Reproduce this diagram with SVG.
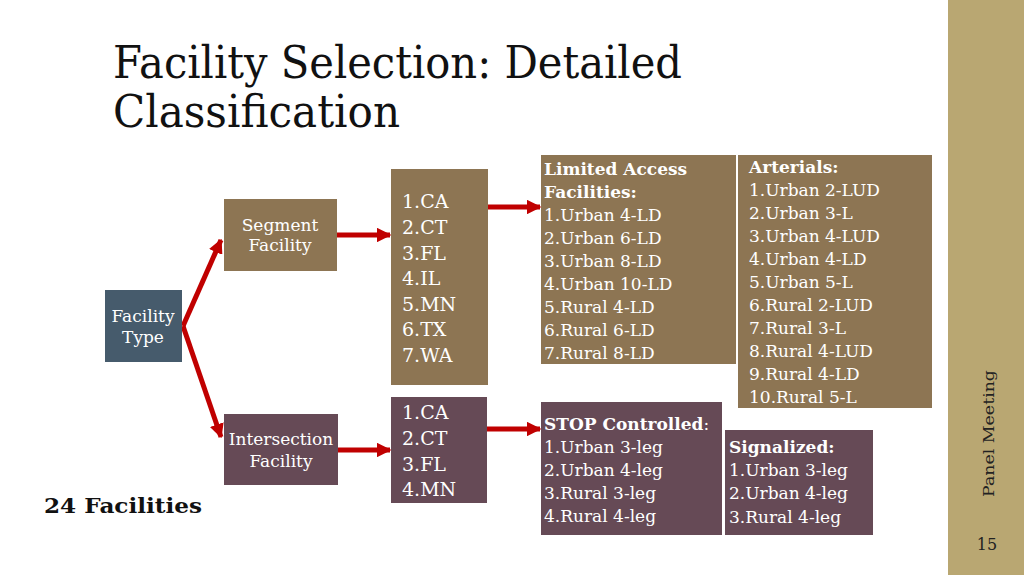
<svg xmlns="http://www.w3.org/2000/svg" width="1024" height="575" viewBox="0 0 1024 575" font-family="'DejaVu Serif', 'Liberation Serif', serif">
<defs>
<marker id="ah" viewBox="0 0 10 10" refX="9" refY="5" markerWidth="2.9" markerHeight="2.9" orient="auto" markerUnits="strokeWidth">
<path d="M0,0 L10,5 L0,10 z" fill="#C00000"/>
</marker>
</defs>
<style>
.brown{fill:#8D7553;}
.plum{fill:#664A56;}
.slate{fill:#465B6C;}
.w{fill:#FFFFFF;font-size:17px;}
.wl{fill:#FFFFFF;font-size:19px;}
.wc{fill:#FFFFFF;font-size:17px;text-anchor:middle;}
.b{font-weight:bold;}
.conn{stroke:#C00000;stroke-width:5;fill:none;marker-end:url(#ah);}
</style>
<rect x="0" y="0" width="1024" height="575" fill="#FFFFFF"/>
<rect x="948" y="0" width="76" height="575" fill="#B9A772"/>
<text x="113" y="78" font-size="45" fill="#111" textLength="569" lengthAdjust="spacingAndGlyphs">Facility Selection: Detailed</text>
<text x="113" y="127" font-size="45" fill="#111" textLength="287" lengthAdjust="spacingAndGlyphs">Classification</text>
<text x="44" y="513" font-size="21" font-weight="bold" fill="#111" textLength="158" lengthAdjust="spacingAndGlyphs">24 Facilities</text>
<text transform="translate(994,497) rotate(-90)" font-size="15" fill="#222" textLength="127" lengthAdjust="spacingAndGlyphs">Panel Meeting</text>
<text x="987" y="550" font-size="16" fill="#222" text-anchor="middle">15</text>

<g id="connectors">
<path class="conn" d="M183,326 L221,240"/>
<path class="conn" d="M183,326 L221,437"/>
<path class="conn" d="M337,235 L390,235"/>
<path class="conn" d="M488,207 L540,207"/>
<path class="conn" d="M338,450 L390,450"/>
<path class="conn" d="M487,429 L540,429"/>
</g>

<g id="facility-type">
<rect class="slate" x="105" y="290" width="77" height="72"/>
<text class="wc" x="143" y="322">Facility</text>
<text class="wc" x="143" y="343">Type</text>
</g>
<g id="segment-facility">
<rect class="brown" x="224" y="199" width="113" height="72"/>
<text class="wc" x="280" y="231">Segment</text>
<text class="wc" x="280" y="251">Facility</text>
</g>
<g id="intersection-facility">
<rect class="plum" x="224" y="414" width="114" height="71"/>
<text class="wc" x="281" y="445">Intersection</text>
<text class="wc" x="281" y="467">Facility</text>
</g>
<g id="segment-states">
<rect class="brown" x="391" y="169" width="97" height="216"/>
<text class="wl" x="402" y="208">1.CA</text>
<text class="wl" x="402" y="234">2.CT</text>
<text class="wl" x="402" y="260">3.FL</text>
<text class="wl" x="402" y="285">4.IL</text>
<text class="wl" x="402" y="311">5.MN</text>
<text class="wl" x="402" y="336">6.TX</text>
<text class="wl" x="402" y="362">7.WA</text>
</g>
<g id="intersection-states">
<rect class="plum" x="391" y="397" width="96" height="106"/>
<text class="wl" x="402" y="419">1.CA</text>
<text class="wl" x="402" y="445">2.CT</text>
<text class="wl" x="402" y="471">3.FL</text>
<text class="wl" x="402" y="496">4.MN</text>
</g>
<g id="limited-access">
<rect class="brown" x="541" y="155" width="195" height="209"/>
<text class="w b" x="544" y="175">Limited Access</text>
<text class="w b" x="544" y="198">Facilities:</text>
<text class="w" x="544" y="221">1.Urban 4-LD</text>
<text class="w" x="544" y="244">2.Urban 6-LD</text>
<text class="w" x="544" y="267">3.Urban 8-LD</text>
<text class="w" x="544" y="290">4.Urban 10-LD</text>
<text class="w" x="544" y="313">5.Rural 4-LD</text>
<text class="w" x="544" y="336">6.Rural 6-LD</text>
<text class="w" x="544" y="359">7.Rural 8-LD</text>
</g>
<g id="arterials">
<rect class="brown" x="738" y="155" width="194" height="253"/>
<text class="w b" x="749" y="173">Arterials:</text>
<text class="w" x="749" y="196">1.Urban 2-LUD</text>
<text class="w" x="749" y="219">2.Urban 3-L</text>
<text class="w" x="749" y="242">3.Urban 4-LUD</text>
<text class="w" x="749" y="265">4.Urban 4-LD</text>
<text class="w" x="749" y="288">5.Urban 5-L</text>
<text class="w" x="749" y="311">6.Rural 2-LUD</text>
<text class="w" x="749" y="334">7.Rural 3-L</text>
<text class="w" x="749" y="357">8.Rural 4-LUD</text>
<text class="w" x="749" y="380">9.Rural 4-LD</text>
<text class="w" x="749" y="403">10.Rural 5-L</text>
</g>
<g id="stop-controlled">
<rect class="plum" x="541" y="402" width="181" height="133"/>
<text class="w" x="544" y="430"><tspan class="b">STOP Controlled</tspan>:</text>
<text class="w" x="544" y="453">1.Urban 3-leg</text>
<text class="w" x="544" y="476">2.Urban 4-leg</text>
<text class="w" x="544" y="499">3.Rural 3-leg</text>
<text class="w" x="544" y="522">4.Rural 4-leg</text>
</g>
<g id="signalized">
<rect class="plum" x="725" y="430" width="148" height="105"/>
<text class="w b" x="729" y="453">Signalized:</text>
<text class="w" x="729" y="476">1.Urban 3-leg</text>
<text class="w" x="729" y="499">2.Urban 4-leg</text>
<text class="w" x="729" y="523">3.Rural 4-leg</text>
</g>
</svg>
